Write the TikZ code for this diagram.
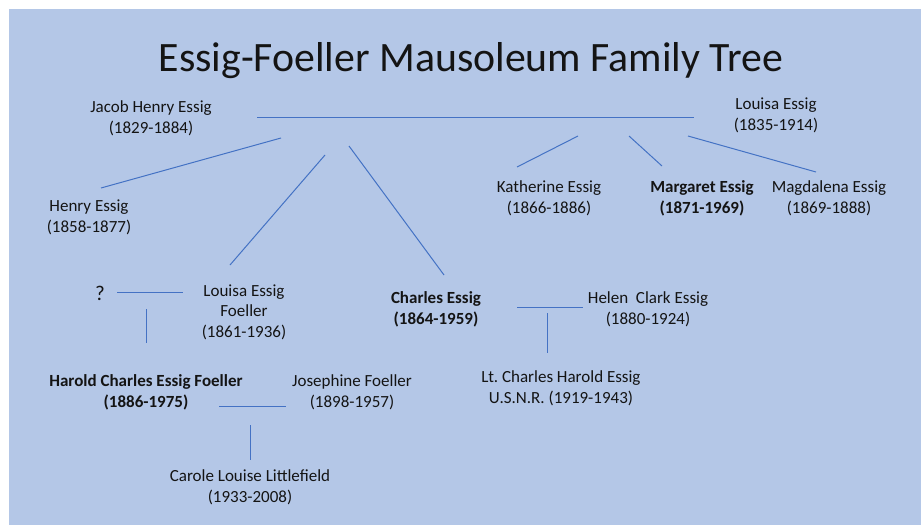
\documentclass[tikz,border=0pt]{standalone}
\usepackage{fontspec}
\setmainfont{Carlito}
\definecolor{bgblue}{HTML}{B4C7E7}
\definecolor{lineblue}{HTML}{4472C4}
\definecolor{ink}{HTML}{141414}
\begin{document}
\begin{tikzpicture}[x=1pt,y=-1pt,
  person/.style={anchor=base,align=center,inner sep=0pt,text=ink,font=\fontsize{17}{20.3}\selectfont},
  boldperson/.style={person,font=\fontsize{17}{20.3}\selectfont\bfseries},
  link/.style={draw=lineblue,line width=1pt}]
\useasboundingbox (0,0) rectangle (921,525);
\fill[white] (0,0) rectangle (921,525);
\fill[bgblue] (9,9) rectangle (921,525);

\node[anchor=base,inner sep=0pt,text=ink,font=\fontsize{41.8}{50}\selectfont] (title) at (471,71) {Essig-Foeller Mausoleum Family Tree};

\node[person] (jacob) at (151,133) {Jacob Henry Essig\\(1829-1884)};
\node[person] (louisa) at (776,130) {Louisa Essig\\(1835-1914)};
\node[person] (henry) at (89,232) {Henry Essig\\(1858-1877)};
\node[person] (katherine) at (549,213) {Katherine Essig\\(1866-1886)};
\node[boldperson] (margaret) at (702,213) {Margaret Essig\\(1871-1969)};
\node[person] (magdalena) at (829,213) {Magdalena Essig\\(1869-1888)};
\node[person,font=\fontsize{21}{24}\selectfont] (unknown) at (100,300) {?};
\node[person] (louisaf) at (244,337) {Louisa Essig\\Foeller\\(1861-1936)};
\node[boldperson] (charles) at (436,324) {Charles Essig\\(1864-1959)};
\node[person] (helen) at (648,324) {Helen\ \ Clark Essig\\(1880-1924)};
\node[boldperson] (harold) at (146,407) {Harold Charles Essig Foeller\\(1886-1975)};
\node[person] (josephine) at (352,407) {Josephine Foeller\\(1898-1957)};
\node[person] (lt) at (561,403) {Lt.\ Charles Harold Essig\\U.S.N.R.\ (1919-1943)};
\node[person] (carole) at (250,502) {Carole Louise Littlefield\\(1933-2008)};

% connector end points
\coordinate (m1a) at (257,117); \coordinate (m1b) at (694,117);
\coordinate (h1) at (281,138); \coordinate (h2) at (101,188);
\coordinate (lf1) at (325,155); \coordinate (lf2) at (230,265);
\coordinate (c1) at (349,146); \coordinate (c2) at (444,275);
\coordinate (k1) at (578,136); \coordinate (k2) at (517,167);
\coordinate (mg1) at (629,136); \coordinate (mg2) at (662,166);
\coordinate (md1) at (688,136); \coordinate (md2) at (816,172);
\coordinate (q1) at (117,292); \coordinate (q2) at (183,292);
\coordinate (qv1) at (146,309); \coordinate (qv2) at (146,343);
\coordinate (hj1) at (219,406); \coordinate (hj2) at (286,406);
\coordinate (hv1) at (250,425); \coordinate (hv2) at (250,460);
\coordinate (ch1) at (517,307); \coordinate (ch2) at (583,307);
\coordinate (cv1) at (547,313); \coordinate (cv2) at (547,353);

\draw[link] (m1a) -- (m1b);
\draw[link] (h1) -- (h2);
\draw[link] (lf1) -- (lf2);
\draw[link] (c1) -- (c2);
\draw[link] (k1) -- (k2);
\draw[link] (mg1) -- (mg2);
\draw[link] (md1) -- (md2);
\draw[link] (q1) -- (q2);
\draw[link] (qv1) -- (qv2);
\draw[link] (hj1) -- (hj2);
\draw[link] (hv1) -- (hv2);
\draw[link] (ch1) -- (ch2);
\draw[link] (cv1) -- (cv2);
\end{tikzpicture}
\end{document}
